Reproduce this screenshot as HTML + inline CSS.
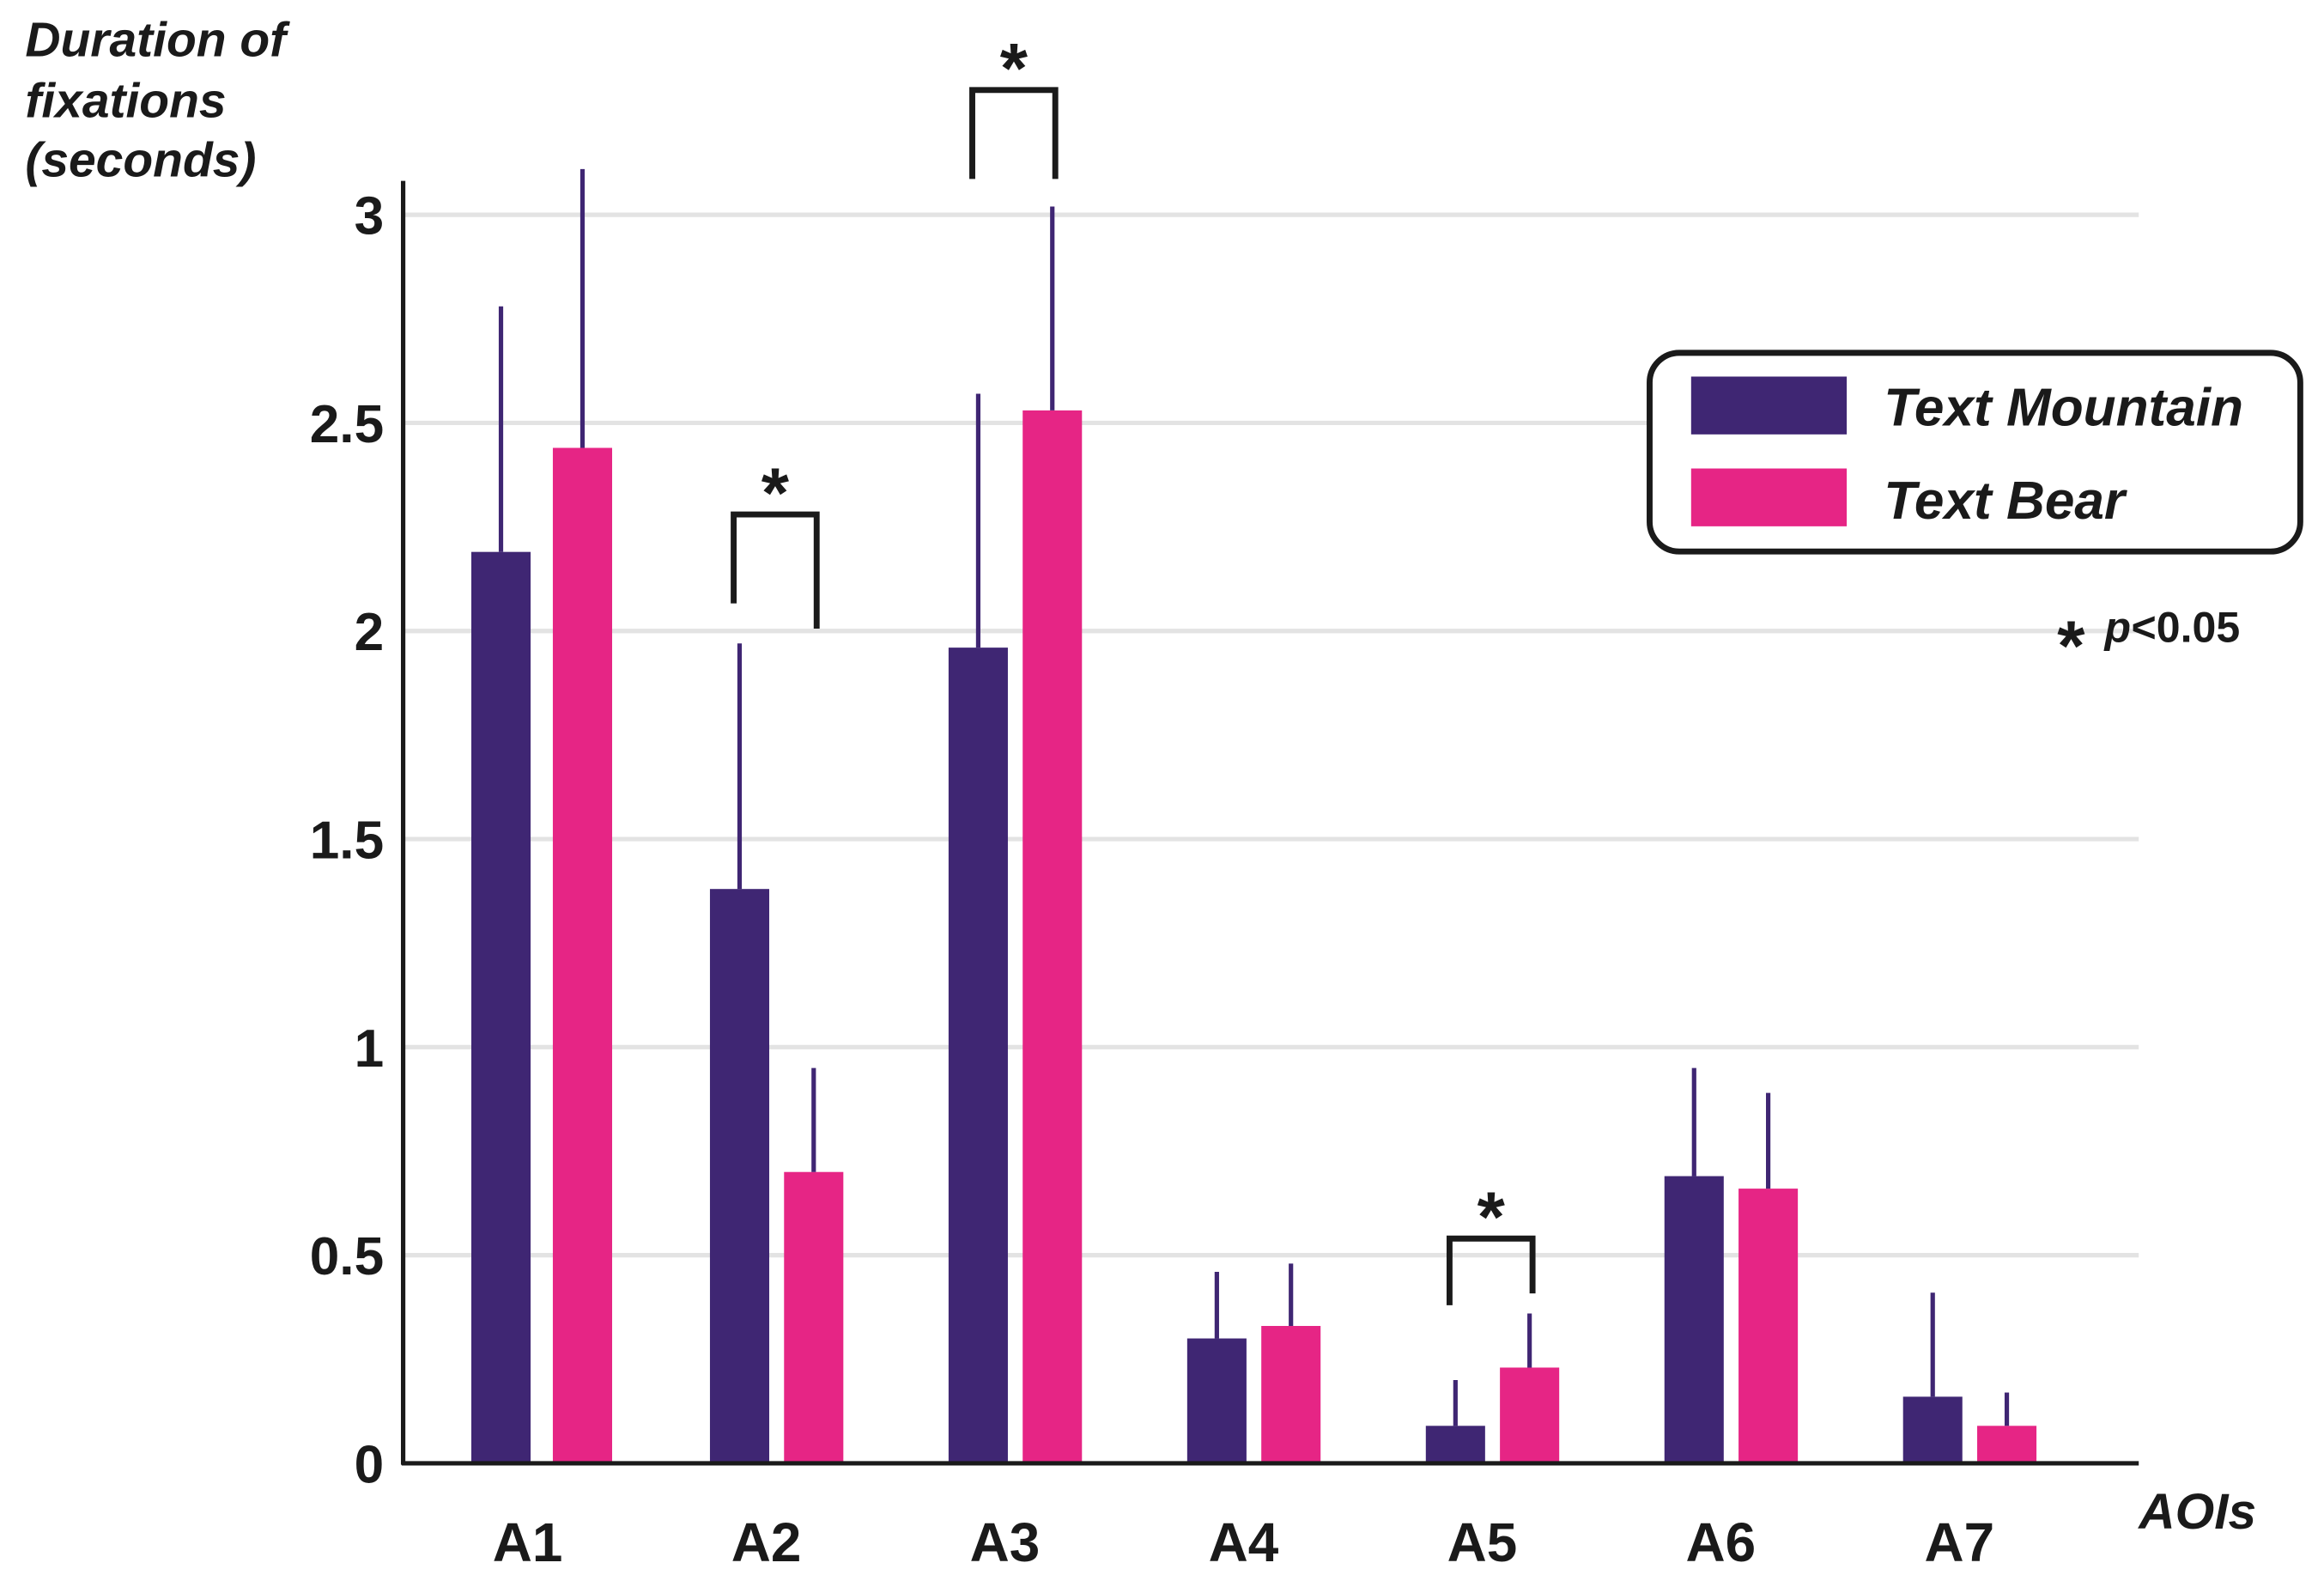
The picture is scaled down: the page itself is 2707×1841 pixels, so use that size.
<!DOCTYPE html>
<html><head><meta charset="utf-8"><style>
html,body{margin:0;padding:0;background:#fff;}
svg{display:block;}
text{font-family:"Liberation Sans",Arial,sans-serif;font-weight:bold;fill:#1a1a1a;}
</style></head><body>
<svg id="chart" width="2707" height="1841" viewBox="0 0 1568 1066.4" preserveAspectRatio="none" xmlns="http://www.w3.org/2000/svg">
<g font-size="33">
<text x="17" y="38" style="font-style:italic">Duration of</text>
<text x="17" y="79" style="font-style:italic">fixations</text>
<text x="17" y="119" style="font-style:italic">(seconds)</text>
</g>
<g id="grid"></g>
<g id="bars"></g>
<g id="errs"></g>
<g id="ticks"></g>
<g id="xlabels"></g>
<line x1="272" y1="122" x2="272" y2="988" stroke="#1a1a1a" stroke-width="3"/>
<line x1="271" y1="987" x2="1443" y2="987" stroke="#1a1a1a" stroke-width="3"/>
<text x="1443" y="1031" font-size="34" style="font-style:italic">AOIs</text>
<g id="sig"></g>
<g>
<rect x="1113" y="238" width="439" height="134" rx="20" fill="#fff" stroke="#1a1a1a" stroke-width="4"/>
<rect x="1141" y="254" width="105" height="39" fill="#3f2673"/>
<text x="1271" y="287" font-size="36" style="font-style:italic">Text Mountain</text>
<rect x="1141" y="316" width="105" height="39" fill="#e62585"/>
<text x="1271" y="350" font-size="36" style="font-style:italic">Text Bear</text>
</g>
<g>
<text x="1388" y="452" font-size="48">*</text>
<text x="1420" y="433" font-size="29" style="font-style:italic">p</text>
<text x="1438" y="433" font-size="29">&lt;0.05</text>
</g>
</svg>
<script>
const categories=["A1","A2","A3","A4","A5","A6","A7"];
const mountainValues=[2.19,1.38,1.96,0.30,0.09,0.69,0.16];
const mountainErrTop=[2.78,1.97,2.57,0.46,0.20,0.95,0.41];
const bearValues=[2.44,0.70,2.53,0.33,0.23,0.66,0.09];
const bearErrTop=[3.11,0.95,3.02,0.48,0.36,0.89,0.17];
const yTicks=[0,0.5,1,1.5,2,2.5,3];
const yTickLabels=["0","0.5","1","1.5","2","2.5","3"];
const sigGroups=[1,2,4];
const sigHeights=[2.28,3.3,0.54];

const NS="http://www.w3.org/2000/svg";
const y=v=>987-v*280.7;
const mxOf=i=>318+i*161;
const BW=40;
function mk(tag,attrs,parent){const e=document.createElementNS(NS,tag);for(const k in attrs)e.setAttribute(k,attrs[k]);document.getElementById(parent).appendChild(e);return e;}
yTicks.forEach((t,i)=>{
  if(t>0){const g=mk('line',{x1:272,x2:1443,y1:y(t),y2:y(t),stroke:'#e3e3e3','stroke-width':3},'grid');
  
  }
  const l=mk('text',{x:259,y:y(t)+13,'text-anchor':'end','font-size':36},'ticks');
  l.textContent=yTickLabels[i];
  
  
});
categories.forEach((c,i)=>{
  const mx=mxOf(i), bx=mx+(i===0?55:50);
  const r1=mk('rect',{x:mx,y:y(mountainValues[i]),width:BW,height:y(0)-y(mountainValues[i]),fill:'#3f2673'},'bars');
  
  
  const r2=mk('rect',{x:bx,y:y(bearValues[i]),width:BW,height:y(0)-y(bearValues[i]),fill:'#e62585'},'bars');
  
  
  const e1=mk('line',{x1:mx+BW/2,x2:mx+BW/2,y1:y(mountainValues[i]),y2:y(mountainErrTop[i]),stroke:'#3f2673','stroke-width':3},'errs');
  
  
  const e2=mk('line',{x1:bx+BW/2,x2:bx+BW/2,y1:y(bearValues[i]),y2:y(bearErrTop[i]),stroke:'#3f2673','stroke-width':3},'errs');
  
  
  const t=mk('text',{x:mx+38,y:1053,'text-anchor':'middle','font-size':37},'xlabels');
  t.textContent=c;
  
  
});
sigGroups.forEach((gi,k)=>{
  const mx=mxOf(gi);
  const lx=mx+16, rx=mx+72, top=y(sigHeights[k]);
  const p=mk('path',{d:`M${lx},${top+(gi===4?45:60)} L${lx},${top} L${rx},${top} L${rx},${gi===1?top+77:(gi===4?top+37:top+60)}`,fill:'none',stroke:'#1a1a1a','stroke-width':4},'sig');
  
  
  const s=mk('text',{x:(lx+rx)/2,y:top+2,'text-anchor':'middle','font-size':48},'sig');
  s.textContent='*';
  
  
});
</script>
</body></html>
